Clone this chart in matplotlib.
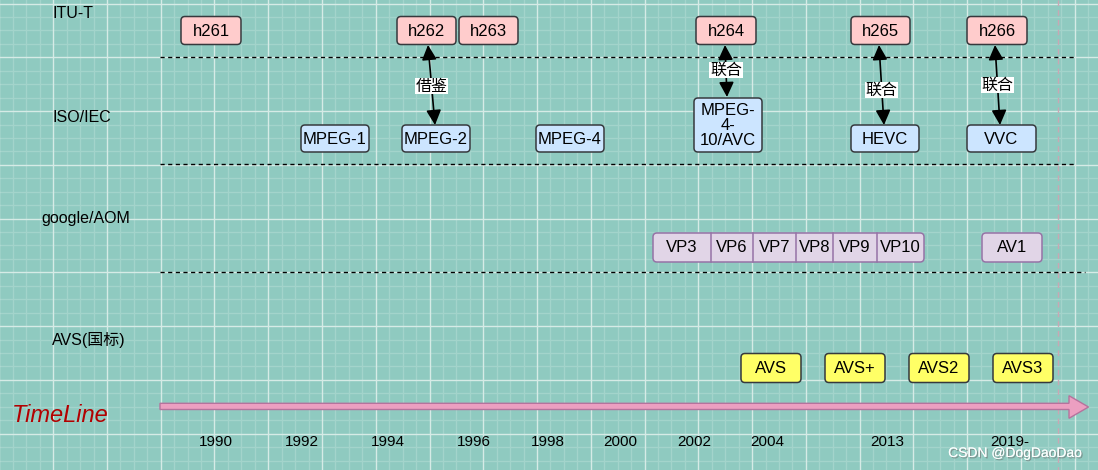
import numpy as np
import matplotlib
matplotlib.use("Agg")
import matplotlib.pyplot as plt
import matplotlib.patheffects as pe
from matplotlib.patches import FancyBboxPatch, FancyArrowPatch, Polygon

plt.rcParams["font.family"] = ["Liberation Sans", "Noto Sans CJK SC"]

# ─── Diagram content (pixel layout of the original draw.io sheet) ───
row_labels = ["ITU-T", "ISO/IEC", "google/AOM", "AVS(国标)"]
row_label_x = [52, 52, 41, 52]
row_label_y = [14, 117, 218, 340]

itu_labels = ["h261", "h262", "h263", "h264", "h265", "h266"]
itu_x0 = [181, 397, 459, 696, 851, 967]
itu_x1 = [241, 456, 518, 756, 910, 1027]

iso_labels = ["MPEG-1", "MPEG-2", "MPEG-4", "MPEG-\n4-\n10/AVC", "HEVC", "VVC"]
iso_x0 = [301, 402, 536, 694, 851, 967]
iso_x1 = [369, 470, 604, 762, 919, 1036]
iso_top = [125, 125, 125, 98, 125, 125]

vp_labels = ["VP3", "VP6", "VP7", "VP8", "VP9", "VP10"]
vp_edges = [653, 711, 753, 796, 833, 877, 924]
av1_span = (982, 1042)

avs_labels = ["AVS", "AVS+", "AVS2", "AVS3"]
avs_x0 = [741, 825, 909, 993]
avs_x1 = [801, 885, 969, 1053]

# links ITU-T <-> ISO/IEC
link_top_x = [428, 725, 879, 995]
link_bot_x = [435, 727, 884, 1000]
link_bot_y = [125, 97, 125, 125]
link_label_y = [86, 70, 90, 85]
link_labels = ["借鉴", "联合", "联合", "联合"]

years = ["1990", "1992", "1994", "1996", "1998", "2000", "2002", "2004", "2013", "2019-"]
year_x = [216, 302, 388, 474, 548, 620, 694, 767, 887, 1010]

W, H = 1098, 470
BG = "#8fcac0"
MINOR = "#a3d4cb"
MAJOR = "#d6ebe6"
EDGE = "#36393d"

fig = plt.figure(figsize=(W / 100, H / 100), dpi=100)
fig.patch.set_facecolor(BG)
ax = fig.add_axes([0, 0, 1, 1])
ax.set_xlim(0, W)
ax.set_ylim(H, 0)
ax.axis("off")
ax.set_facecolor(BG)

# ─── grid ──────────────────────────────────────────────────────────
step = 53.76 / 4
for i, x in enumerate(np.arange(53.2 - 4 * step, W, step)):
    ax.plot([x, x], [0, H], color=MAJOR if i % 4 == 0 else MINOR,
            lw=1.0, zorder=1 if i % 4 == 0 else 0)
for i, y in enumerate(np.arange(3.55, H, step)):
    ax.plot([0, W], [y, y], color=MAJOR if i % 4 == 0 else MINOR,
            lw=1.0, zorder=1 if i % 4 == 0 else 0)
ax.plot([1058, 1058], [0, H], color="#c8a7b4", lw=1, ls=(0, (4, 3)), zorder=1)

# ─── row separators ───────────────────────────────────────────────
for y, x1 in [(57, 1075), (164, 1075), (272, 1085)]:
    ax.plot([160, x1], [y, y], color="black", lw=1, ls=(0, (3, 2.5)), zorder=2)

for lab, x, y in zip(row_labels, row_label_x, row_label_y):
    ax.text(x, y, lab, fontsize=11.5, ha="left", va="center", zorder=5)


def box(x0, x1, y0, y1, text, fc, ec, fs=12):
    p = FancyBboxPatch((x0, y0), x1 - x0, y1 - y0,
                       boxstyle="round,pad=0,rounding_size=4",
                       fc=fc, ec=ec, lw=1.1, zorder=4)
    ax.add_patch(p)
    if text:
        ax.text((x0 + x1) / 2, (y0 + y1) / 2 + 0.5, text, fontsize=fs,
                ha="center", va="center", linespacing=1.0, zorder=5)


for lab, a, b in zip(itu_labels, itu_x0, itu_x1):
    box(a, b, 16.5, 44.5, lab, "#ffcccc", EDGE)

for lab, a, b, t in zip(iso_labels, iso_x0, iso_x1, iso_top):
    box(a, b, t, 152, lab, "#cce5ff", EDGE)

# VP group: one rounded strip split into cells
box(vp_edges[0], vp_edges[-1], 233, 262, "", "#e1d5e7", "#9673a6")
for i, lab in enumerate(vp_labels):
    a, b = vp_edges[i], vp_edges[i + 1]
    ax.text((a + b) / 2, 247.5, lab, fontsize=12, ha="center", va="center", zorder=5)
    if i > 0:
        ax.plot([a, a], [233, 262], color="#9673a6", lw=1.1, zorder=5)
box(av1_span[0], av1_span[1], 233, 262, "AV1", "#e1d5e7", "#9673a6")

for lab, a, b in zip(avs_labels, avs_x0, avs_x1):
    box(a, b, 353.5, 382.5, lab, "#ffff66", EDGE)

# ─── links ────────────────────────────────────────────────────────
for xt, xb, yb, ly, lab in zip(link_top_x, link_bot_x, link_bot_y, link_label_y, link_labels):
    arr = FancyArrowPatch((xt, 45), (xb, yb), arrowstyle="<|-|>,head_length=9,head_width=4.5",
                          mutation_scale=1, color="black", lw=1.2, zorder=3,
                          shrinkA=0, shrinkB=0)
    ax.add_patch(arr)
    xm = xt + (xb - xt) * (ly - 45) / (yb - 45)
    ax.text(xm, ly, lab, fontsize=11.5, ha="center", va="center", zorder=6,
            bbox=dict(fc="white", ec="none", pad=0.5))

# ─── timeline arrow ───────────────────────────────────────────────
shaft = [(160, 403.3), (1069, 403.3), (1069, 395.7), (1088.5, 407), (1069, 418.3),
         (1069, 409.5), (160, 409.5)]
ax.add_patch(Polygon(shaft, closed=True, fc="#ec9fc1", ec="#b5739d", lw=1, zorder=4))

ax.text(12, 416, "TimeLine", fontsize=17, color="#b20000", ha="left", va="center",
        fontstyle="italic", zorder=5)

for lab, x in zip(years, year_x):
    ax.text(x, 442, lab, fontsize=11, ha="center", va="center", zorder=5)

ax.text(1015, 453, "CSDN @DogDaoDao", fontsize=10, color="white", alpha=0.9,
        ha="center", va="center", zorder=6,
        path_effects=[pe.withSimplePatchShadow(offset=(1, -1), shadow_rgbFace="#707070", alpha=0.6),
                      pe.Normal()])

fig.savefig("out.png", dpi=100, facecolor=BG)
